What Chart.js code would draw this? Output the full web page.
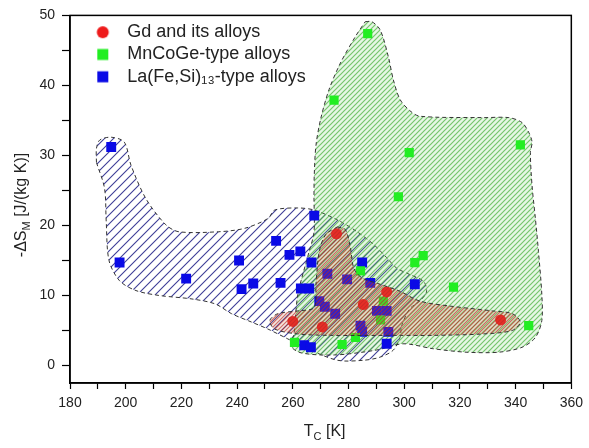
<!DOCTYPE html>
<html>
<head>
<meta charset="utf-8">
<script src="https://cdn.jsdelivr.net/npm/chart.js@4.4.1/dist/chart.umd.min.js"></script>
<style>
  html, body { margin: 0; padding: 0; background: #fff; }
</style>
</head>
<body>
<canvas id="chart" width="589" height="448"></canvas>
<script>
// Gd and its alloys (red circles)
const gdTc = [260.0, 270.6, 275.7, 285.3, 293.7, 334.6];
const gdDS = [6.3, 5.5, 18.8, 8.7, 10.5, 6.5];

// MnCoGe-type alloys (green squares)
const mnTc = [286.9, 274.8, 341.7, 301.8, 297.9, 306.8, 303.8, 317.7, 344.7, 260.6, 277.7, 282.5, 292.5, 284.3, 291.5];
const mnDS = [47.4, 37.9, 31.5, 30.4, 24.1, 15.7, 14.7, 11.2, 5.7, 3.3, 3.0, 4.0, 9.2, 13.5, 6.5];

// La(Fe,Si)13-type alloys (blue squares)
const laTc = [194.8, 197.8, 221.7, 240.7, 241.6, 245.8, 254.0, 255.6, 258.8, 262.7, 262.9, 265.9, 266.7, 267.7, 264.1,
  266.5, 269.5, 271.5, 272.4, 275.2, 279.5, 284.3, 284.9, 284.9, 287.8, 290.2, 293.7, 294.3, 293.7, 303.8];
const laDS = [31.2, 14.7, 12.4, 15.0, 10.9, 11.7, 17.8, 11.8, 15.8, 16.3, 11.0, 11.0, 14.7, 21.4, 2.9,
  2.6, 9.2, 8.4, 13.1, 7.4, 12.3, 5.7, 4.8, 14.7, 11.8, 7.8, 7.8, 4.8, 3.1, 11.6];

// hand drawn envelopes around each family
const laAreaTc = [189.5, 189.5, 190.7, 194.8, 199.5, 201.9, 207.3, 214.4, 219.1, 233.3, 242.8, 251.1, 253.5, 261.8, 267.7,
  276.0, 283.1, 289.0, 293.7, 297.3, 302.0, 307.0, 308.0, 305.6, 302.0, 299.1, 298.5, 296.1, 291.4, 285.5, 276.0,
  265.3, 258.2, 251.1, 245.2, 238.0, 232.1, 223.8, 212.0, 203.7, 197.8, 194.0, 193.0, 192.4];
const laAreaDS = [29.0, 31.0, 32.2, 32.6, 31.9, 28.6, 23.8, 20.1, 19.1, 19.1, 19.6, 21.0, 22.2, 22.5, 22.2,
  20.8, 19.1, 17.3, 15.4, 13.9, 13.0, 12.0, 10.5, 9.2, 8.1, 5.7, 4.0, 2.2, 1.2, 0.75, 0.75,
  2.4, 3.8, 5.2, 6.2, 7.4, 8.8, 9.5, 10.0, 10.7, 12.1, 15.0, 20.6, 25.3];

const mnAreaTc = [286.0, 288.4, 291.4, 294.3, 296.1, 298.5, 302.0, 305.6, 328.1, 337.6, 342.3, 344.7, 345.9, 345.3,
  345.9, 347.1, 348.2, 349.4, 349.4, 347.1, 342.3, 334.0, 322.2, 310.3, 299.6, 290.0, 275.0, 263.0, 259.3, 260.4,
  261.8, 265.8, 267.6, 267.6, 267.7, 268.3, 270.0, 273.0, 277.1, 282.5];
const mnAreaDS = [49.1, 49.1, 47.9, 44.1, 40.8, 38.0, 36.4, 35.6, 35.4, 35.4, 34.7, 33.3, 31.9, 30.4,
  25.7, 21.0, 16.3, 10.2, 6.4, 4.0, 2.6, 1.9, 1.9, 2.4, 3.1, 2.2, 1.5, 1.8, 2.8, 4.5,
  10.1, 16.2, 19.0, 24.0, 27.2, 31.4, 35.2, 39.4, 43.2, 47.0];

const gdAreaTc = [276.0, 278.9, 280.7, 281.9, 284.9, 291.4, 298.5, 305.6, 316.2, 331.7, 338.8, 341.7, 338.8, 328.1,
  310.3, 298.5, 273.6, 261.8, 253.5, 251.7, 254.6, 261.8, 267.7, 268.3, 269.5, 271.8];
const gdAreaDS = [19.8, 19.4, 16.8, 13.9, 12.5, 11.6, 10.6, 9.2, 8.5, 7.8, 7.4, 6.2, 5.0, 4.5,
  4.3, 4.3, 4.3, 4.5, 5.2, 6.4, 7.4, 7.8, 8.3, 11.6, 16.3, 18.7];

const xTickLabels = [180, 200, 220, 240, 260, 280, 300, 320, 340, 360];
const yTickLabels = [0, 10, 20, 30, 40, 50];

const FONT = "'Liberation Sans', Arial, sans-serif";
const TEXT = '#222';

function points(xs, ys) {
  return xs.map((x, i) => ({ x: x, y: ys[i] }));
}

function closed(xs, ys) {
  const pts = points(xs, ys);
  pts.push(pts[0]);
  return pts;
}

const canvas = document.getElementById('chart');
const mainCtx = canvas.getContext('2d');

// diagonal "/" hatch used to fill the envelopes
function hatch(line, tint, gap, width) {
  const tile = document.createElement('canvas');
  tile.width = tile.height = gap;
  const g = tile.getContext('2d');
  if (tint) {
    g.fillStyle = tint;
    g.fillRect(0, 0, gap, gap);
  }
  g.strokeStyle = line;
  g.lineWidth = width;
  g.beginPath();
  g.moveTo(0, gap); g.lineTo(gap, 0);
  g.moveTo(-gap / 2, gap / 2); g.lineTo(gap / 2, -gap / 2);
  g.moveTo(gap / 2, gap * 1.5); g.lineTo(gap * 1.5, gap / 2);
  g.stroke();
  return mainCtx.createPattern(tile, 'repeat');
}

// legend markers, drawn with some room on the left
function legendIcon(shape, color) {
  const c = document.createElement('canvas');
  c.width = 44; c.height = 14;
  const g = c.getContext('2d');
  g.fillStyle = color;
  if (shape === 'circle') {
    g.beginPath();
    g.arc(28.5, 7, 6, 0, Math.PI * 2);
    g.fill();
  } else {
    g.fillRect(23, 1.5, 11, 11);
  }
  return c;
}
const legendIcons = [legendIcon('circle', '#ee1a1a'), legendIcon('rect', '#22ee22'), legendIcon('rect', '#0a0ae6')];

function region(label, xs, ys, pattern, order) {
  return {
    type: 'line',
    label: label,
    data: closed(xs, ys),
    fill: 'shape',
    backgroundColor: pattern,
    borderColor: '#333',
    borderWidth: 1,
    borderDash: [4, 3],
    tension: 0.3,
    pointRadius: 0,
    pointHoverRadius: 0,
    order: order
  };
}

function drawRich(ctx, parts, x, y, angle) {
  ctx.save();
  ctx.translate(x, y);
  ctx.rotate(angle);
  let total = 0;
  parts.forEach(p => {
    ctx.font = p.size + 'px ' + FONT;
    p.w = ctx.measureText(p.t).width;
    total += p.w;
  });
  let cx = -total / 2;
  ctx.fillStyle = TEXT;
  ctx.textBaseline = 'middle';
  parts.forEach(p => {
    ctx.font = p.size + 'px ' + FONT;
    ctx.fillText(p.t, cx, p.dy || 0);
    cx += p.w;
  });
  ctx.restore();
}

const frameAndTitles = {
  id: 'frameAndTitles',
  afterDraw(chart) {
    const ctx = chart.ctx;
    const a = chart.chartArea;
    ctx.save();
    ctx.strokeStyle = '#000';
    ctx.lineWidth = 1.5;
    ctx.strokeRect(a.left, a.top, a.right - a.left, a.bottom - a.top);
    ctx.restore();
    drawRich(ctx, [
      { t: 'T', size: 16 },
      { t: 'C', size: 11, dy: 5 },
      { t: ' [K]', size: 16 }
    ], (a.left + a.right) / 2 + 4, 432, 0);
    drawRich(ctx, [
      { t: '-ΔS', size: 16 },
      { t: 'M', size: 11, dy: 5 },
      { t: ' [J/(kg K)]', size: 16 }
    ], 22, 205, -Math.PI / 2);
  }
};

new Chart(canvas, {
  type: 'scatter',
  data: {
    datasets: [
      {
        label: 'Gd and its alloys',
        data: points(gdTc, gdDS),
        pointStyle: 'circle',
        pointRadius: 5.5,
        backgroundColor: '#ee1a1a',
        borderWidth: 0,
        order: 1
      },
      {
        label: 'MnCoGe-type alloys',
        data: points(mnTc, mnDS),
        pointStyle: 'rect',
        pointRadius: 6.5,
        backgroundColor: '#22ee22',
        borderWidth: 0,
        order: 2
      },
      {
        label: 'La(Fe,Si)₁₃-type alloys',
        data: points(laTc, laDS),
        pointStyle: 'rect',
        pointRadius: 7,
        backgroundColor: '#0a0ae6',
        borderWidth: 0,
        order: 3
      },
      region('La area', laAreaTc, laAreaDS, hatch('rgba(40,40,140,0.9)', null, 9, 1.1), 6),
      region('MnCoGe area', mnAreaTc, mnAreaDS, hatch('rgba(80,180,70,0.75)', 'rgba(130,215,120,0.2)', 5, 1.2), 5),
      region('Gd area', gdAreaTc, gdAreaDS, hatch('rgba(190,40,40,0.65)', 'rgba(200,130,90,0.2)', 4, 1.1), 0)
    ]
  },
  options: {
    responsive: false,
    animation: false,
    layout: { padding: { top: 11, right: 13, left: 0, bottom: 0 } },
    scales: {
      x: {
        type: 'linear',
        min: 180,
        max: 360,
        afterFit(scale) { scale.height = 65; },
        border: { display: true, color: '#000', width: 1.5 },
        grid: { display: true, drawOnChartArea: false, drawTicks: true, tickLength: 6, color: '#000', tickWidth: 1.2 },
        ticks: {
          stepSize: 10,
          autoSkip: false,
          maxRotation: 0,
          padding: 6,
          color: TEXT,
          font: { family: FONT, size: 14 },
          callback: function(value) {
            return xTickLabels.includes(value) ? value : '';
          }
        }
      },
      y: {
        type: 'linear',
        min: -2.5,
        max: 50,
        afterFit(scale) { scale.width = 70; },
        border: { display: true, color: '#000', width: 1.5 },
        grid: {
          display: true,
          drawOnChartArea: false,
          drawTicks: true,
          tickLength: 8,
          tickWidth: 1.2,
          tickColor: function(ctx) {
            return ctx.tick && ctx.tick.value < 0 ? 'rgba(0,0,0,0)' : '#000';
          }
        },
        ticks: {
          stepSize: 5,
          autoSkip: false,
          padding: 7,
          color: TEXT,
          font: { family: FONT, size: 14 },
          callback: function(value) {
            return yTickLabels.includes(value) ? value : '';
          }
        }
      }
    },
    plugins: {
      tooltip: { enabled: false },
      legend: {
        position: 'chartArea',
        align: 'start',
        title: { display: true, text: '', font: { size: 1 }, padding: { top: 17.7, bottom: 0 } },
        labels: {
          usePointStyle: true,
          pointStyleWidth: 44,
          padding: 4.3,
          color: TEXT,
          font: { family: FONT, size: 18 },
          filter: function(item) {
            return item.datasetIndex < 3;
          },
          generateLabels: function(chart) {
            const items = Chart.defaults.plugins.legend.labels.generateLabels(chart);
            items.forEach(item => {
              if (item.datasetIndex < 3) item.pointStyle = legendIcons[item.datasetIndex];
            });
            return items;
          }
        }
      }
    }
  },
  plugins: [frameAndTitles]
});
</script>
</body>
</html>
